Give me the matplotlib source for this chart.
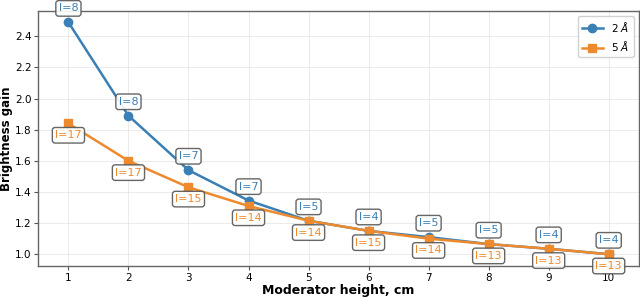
import matplotlib
matplotlib.use("Agg")
import matplotlib.pyplot as plt

# Moderator height (cm) and brightness gain per wavelength
heights = [1, 2, 3, 4, 5, 6, 7, 8, 9, 10]
gain_2A = [2.49, 1.89, 1.54, 1.345, 1.215, 1.15, 1.11, 1.065, 1.035, 1.0]
gain_5A = [1.84, 1.60, 1.43, 1.31, 1.215, 1.15, 1.10, 1.065, 1.035, 1.0]
layers_2A = [8, 8, 7, 7, 5, 4, 5, 5, 4, 4]
layers_5A = [17, 17, 15, 14, 14, 15, 14, 13, 13, 13]

blue = "#3a7fb5"
orange = "#ee8a2e"

fig, ax = plt.subplots(figsize=(6.4, 2.97), dpi=100)

ax.plot(heights, gain_2A, color=blue, lw=1.8, marker="o", ms=6, label=r"2 $\AA$", zorder=3)
ax.plot(heights, gain_5A, color=orange, lw=1.8, marker="s", ms=6, label=r"5 $\AA$", zorder=4)

box = dict(boxstyle="round,pad=0.25", fc="white", ec="#555555", lw=1.0, alpha=0.9)
for x, y, n in zip(heights, gain_2A, layers_2A):
    ax.annotate(f"l={n}", (x, y), xytext=(0, 10), textcoords="offset points",
                ha="center", va="center", fontsize=8, color=blue, bbox=box,
                annotation_clip=False, zorder=5)
for x, y, n in zip(heights, gain_5A, layers_5A):
    ax.annotate(f"l={n}", (x, y), xytext=(0, -8.5), textcoords="offset points",
                ha="center", va="center", fontsize=8, color=orange, bbox=box,
                annotation_clip=False, zorder=6)

ax.set_xlim(0.5, 10.5)
ax.set_xticks(heights)
ax.set_xlabel("Moderator height, cm", fontsize=9, fontweight="bold", labelpad=1)
ax.set_ylabel("Brightness gain", fontsize=8.5, fontweight="bold", labelpad=1)
ax.tick_params(labelsize=7.5, length=3, pad=2, color="#555555")
ax.grid(True, color="#dddddd", lw=0.6, alpha=0.7)
for s in ax.spines.values():
    s.set_color("#666666")
    s.set_linewidth(1.0)

ax.legend(loc="upper right", fontsize=7.5, framealpha=0.9, edgecolor="#cccccc")

fig.subplots_adjust(left=0.06, right=0.998, top=0.964, bottom=0.105)
fig.savefig("out.png", dpi=100)
